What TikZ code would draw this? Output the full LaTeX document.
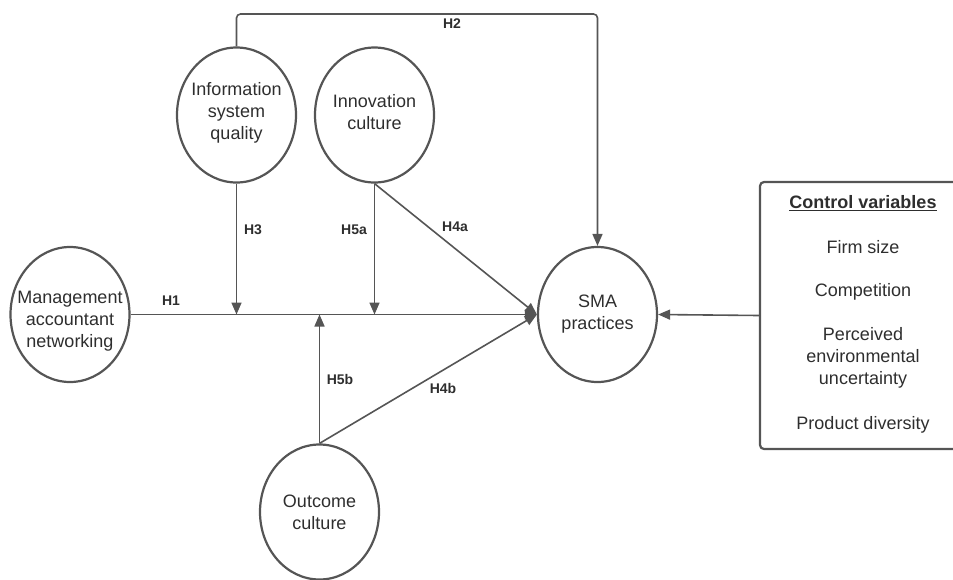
\documentclass[tikz,border=0pt]{standalone}
\usepackage{fontspec}
\setmainfont{Liberation Sans}
\usetikzlibrary{shapes.geometric,arrows.meta}
\definecolor{ln}{HTML}{555555}
\definecolor{tx}{HTML}{2E2E2E}
\begin{document}
\begin{tikzpicture}[x=1pt,y=-1pt,
  var/.style={draw=ln,line width=2.2pt,ellipse,minimum width=119pt,minimum height=135pt,inner sep=0pt},
  vtext/.style={text=tx,font=\fontsize{18}{22}\selectfont,align=center,inner sep=0pt},
  conn/.style={draw=ln,line width=1.6pt},
  arr/.style={conn,-{Triangle[length=12pt,width=10pt]}},
  hlab/.style={text=tx,font=\fontsize{14}{16}\selectfont\bfseries,inner sep=0pt},
  ctext/.style={text=tx,font=\fontsize{18}{22}\selectfont,align=center,inner sep=0pt}]
\useasboundingbox (0,0) rectangle (953,579);
\clip (0,0) rectangle (953,579);
\node[var,label={[vtext,yshift=2pt]center:{Information\\system\\quality}}] (isq) at (236.5,115) {};
\node[var,label={[vtext,yshift=3pt]center:{Innovation\\culture}}] (inn) at (374.5,115) {};
\node[var,label={[vtext,yshift=-7pt]center:{Management\\accountant\\networking}}] (man) at (70,314.5) {};
\node[var,label={[vtext]center:{Outcome\\culture}}] (out) at (319.5,512) {};
\node[var,label={[vtext]center:{SMA\\practices}}] (sma) at (597.5,314.5) {};
\node[draw=ln,line width=2.2pt,rounded corners=4pt,minimum width=206pt,minimum height=267pt,inner sep=0pt] (ctrl) at (863,315.5) {};
% points on the H1 line
\coordinate (p3) at (isq.south |- sma.west);
\coordinate (p5a) at (inn.south |- sma.west);
\coordinate (p5b) at (out.north |- sma.west);
\coordinate (h2a) at (236.5,14);
\coordinate (h2b) at (597.5,14);
% connectors
\draw[arr] (man.east) -- (sma.west);
\draw[arr] (isq.south) -- (p3);
\draw[arr] (inn.south) -- (p5a);
\draw[arr] (out.north) -- (p5b);
\draw[arr] (inn.south) -- (sma.west);
\draw[arr] (out.north) -- (sma.west);
\draw[arr,rounded corners=4pt] (isq.north) -- (h2a) -- (h2b) -- (sma.north);
\draw[arr] (ctrl.west) -- (sma.east);
% labels
\node[hlab] (l2) at (452,24) {H2};
\node[hlab] (l3) at (253,230) {H3};
\node[hlab] (l5a) at (354,230) {H5a};
\node[hlab] (l4a) at (455,227) {H4a};
\node[hlab] (l1) at (171,301) {H1};
\node[hlab] (l5b) at (340,379) {H5b};
\node[hlab] (l4b) at (443,388) {H4b};
% control variables
\node[ctext,font=\fontsize{18}{22}\selectfont\bfseries] (cv) at (863,203) {\underline{Control variables}};
\node[ctext] (c1) at (863,247) {Firm size};
\node[ctext] (c2) at (863,292) {Competition};
\node[ctext] (c3) at (863,358) {Perceived\\environmental\\uncertainty};
\node[ctext] (c4) at (863,425) {Product diversity};
\end{tikzpicture}
\end{document}
